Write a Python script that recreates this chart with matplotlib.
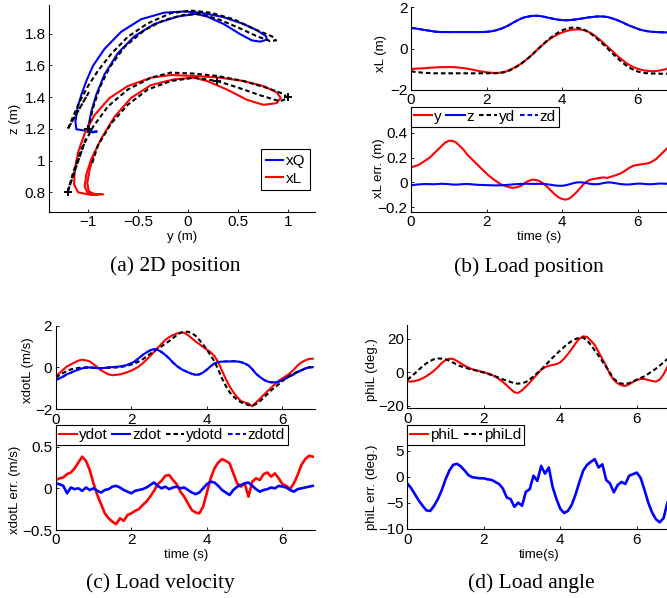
import numpy as np
import matplotlib
matplotlib.use("Agg")
import matplotlib.pyplot as plt
from matplotlib.ticker import FuncFormatter

plt.rcParams['font.family'] = ['Liberation Sans', 'DejaVu Sans']

# ---------------- (a) 2D position: y-z paths ----------------
yQ = [-0.917, -1.033, -1.116, -1.126, -1.106, -1.066, -1.017, -0.950, -0.834, -0.669, -0.470, -0.238,
      -0.040, 0.126, 0.358, 0.556, 0.689, 0.781, 0.788, 0.722, 0.639, 0.523, 0.358, 0.192, 0.076,
      -0.106, -0.338, -0.536, -0.702, -0.834, -0.917, -0.967, -0.993, -0.990, -0.950, -0.917]
zQ = [1.180, 1.189, 1.197, 1.244, 1.330, 1.415, 1.501, 1.597, 1.704, 1.811, 1.890, 1.932,
      1.939, 1.932, 1.903, 1.860, 1.821, 1.783, 1.762, 1.749, 1.757, 1.796, 1.860, 1.907, 1.924,
      1.907, 1.860, 1.783, 1.676, 1.544, 1.415, 1.309, 1.223, 1.191, 1.176, 1.185]
yQd = [-1.199, -1.149, -1.083, -1.0, -0.901, -0.768, -0.603, -0.404, -0.172, 0.026, 0.225, 0.457,
       0.689, 0.838, 0.881, 0.821, 0.689, 0.523, 0.325, 0.126, -0.040, -0.238, -0.437, -0.636,
       -0.785, -0.884, -0.950, -0.993]
zQd = [1.202, 1.277, 1.373, 1.469, 1.565, 1.672, 1.779, 1.864, 1.928, 1.945, 1.932, 1.890,
       1.821, 1.783, 1.757, 1.753, 1.783, 1.832, 1.885, 1.924, 1.918, 1.885, 1.821, 1.715,
       1.586, 1.458, 1.330, 1.212]
yQd_start = [-1.199, -0.990]
zQd_start = [1.202, 1.432]

yL = [-0.868, -0.967, -1.099, -1.139, -1.132, -1.099, -1.033, -0.934, -0.785, -0.603, -0.371, -0.172,
      0.060, 0.325, 0.556, 0.755, 0.887, 0.927, 0.887, 0.755, 0.589, 0.391, 0.192, 0.060, -0.139,
      -0.371, -0.570, -0.735, -0.868, -0.967, -1.017, -1.033, -1.007, -0.934, -0.884]
zL = [0.789, 0.783, 0.800, 0.849, 0.945, 1.052, 1.170, 1.287, 1.394, 1.469, 1.522, 1.539,
      1.533, 1.522, 1.501, 1.469, 1.430, 1.394, 1.362, 1.351, 1.383, 1.447, 1.501, 1.522, 1.512,
      1.475, 1.394, 1.276, 1.138, 1.009, 0.913, 0.838, 0.800, 0.785, 0.789]
yL2 = [-0.934, -0.983, -1.007, -0.993, -0.934, -0.851]
zL2 = [1.052, 0.945, 0.860, 0.806, 0.789, 0.787]
yLd = [-1.205, -1.149, -1.066, -0.950, -0.801, -0.603, -0.371, -0.172, 0.060, 0.291, 0.556, 0.788,
       0.954, 0.997, 0.921, 0.722, 0.490, 0.291, 0.060, -0.172, -0.404, -0.603, -0.768, -0.901, -0.967]
zLd = [0.800, 0.924, 1.073, 1.212, 1.341, 1.447, 1.522, 1.554, 1.548, 1.533, 1.501, 1.458,
       1.420, 1.394, 1.373, 1.411, 1.462, 1.501, 1.522, 1.501, 1.447, 1.351, 1.234, 1.095, 0.967]
yLd_start = [-1.205, -1.02]
zLd_start = [0.800, 1.14]
y_marks = [-1.2, -1.0, 0.29, 1.0]
z_marks = [0.8, 1.2, 1.5, 1.4]

# ---------------- time series (0 .. 6.8 s, 0.1 s step) ----------------
t = np.linspace(0, 6.8, 69)

yL_t = [-0.99, -0.98, -0.97, -0.96, -0.95, -0.93, -0.92, -0.91, -0.90, -0.90, -0.90, -0.90, -0.91, -0.93,
        -0.95, -0.98, -1.01, -1.05, -1.09, -1.12, -1.15, -1.17, -1.18, -1.18, -1.16, -1.12, -1.05, -0.96,
        -0.86, -0.75, -0.62, -0.47, -0.31, -0.13, 0.04, 0.20, 0.35, 0.49, 0.60, 0.70, 0.78, 0.84, 0.89,
        0.92, 0.93, 0.92, 0.88, 0.81, 0.71, 0.58, 0.43, 0.27, 0.10, -0.07, -0.24, -0.41, -0.56, -0.70,
        -0.82, -0.91, -0.98, -1.03, -1.07, -1.09, -1.10, -1.09, -1.06, -1.02, -0.97]
zL_t = [1.00, 0.98, 0.95, 0.92, 0.89, 0.86, 0.83, 0.81, 0.80, 0.80, 0.80, 0.80, 0.80, 0.80, 0.80, 0.80,
        0.80, 0.80, 0.80, 0.80, 0.81, 0.83, 0.86, 0.91, 0.97, 1.05, 1.14, 1.25, 1.35, 1.44, 1.51, 1.55,
        1.58, 1.59, 1.58, 1.55, 1.51, 1.47, 1.43, 1.40, 1.38, 1.37, 1.38, 1.40, 1.42, 1.45, 1.48, 1.51,
        1.53, 1.55, 1.56, 1.55, 1.53, 1.48, 1.42, 1.35, 1.27, 1.18, 1.10, 1.03, 0.96, 0.90, 0.86, 0.83,
        0.81, 0.80, 0.79, 0.79, 0.78]
yLd_t = [-1.10, -1.13, -1.15, -1.17, -1.18, -1.19, -1.20, -1.20, -1.20, -1.20, -1.20, -1.20, -1.20, -1.20,
         -1.20, -1.20, -1.20, -1.20, -1.20, -1.20, -1.20, -1.20, -1.20, -1.19, -1.17, -1.13, -1.07, -0.98,
         -0.88, -0.76, -0.62, -0.47, -0.31, -0.14, 0.04, 0.21, 0.38, 0.53, 0.66, 0.78, 0.88, 0.95, 1.00,
         1.02, 1.01, 0.97, 0.90, 0.80, 0.67, 0.52, 0.36, 0.19, 0.01, -0.17, -0.35, -0.52, -0.68, -0.82,
         -0.94, -1.04, -1.11, -1.16, -1.19, -1.20, -1.21, -1.21, -1.22, -1.22, -1.22]
zLd_t = zL_t
eyL = [0.12, 0.13, 0.14, 0.16, 0.18, 0.20, 0.23, 0.26, 0.29, 0.32, 0.335, 0.335, 0.32, 0.29, 0.26, 0.22,
       0.19, 0.16, 0.13, 0.10, 0.07, 0.045, 0.02, 0.0, -0.02, -0.03, -0.04, -0.045, -0.04, -0.03, -0.01,
       0.01, 0.02, 0.02, 0.01, -0.01, -0.035, -0.065, -0.095, -0.12, -0.135, -0.14, -0.13, -0.105,
       -0.075, -0.04, -0.005, 0.015, 0.025, 0.03, 0.035, 0.04, 0.035, 0.045, 0.055, 0.065, 0.08, 0.10,
       0.12, 0.135, 0.14, 0.145, 0.15, 0.155, 0.17, 0.19, 0.22, 0.25, 0.28]
ezL = [-0.025, -0.02, -0.017, -0.015, -0.014, -0.015, -0.016, -0.014, -0.012, -0.013, -0.015, -0.018,
       -0.019, -0.017, -0.014, -0.014, -0.016, -0.019, -0.021, -0.022, -0.023, -0.024, -0.025, -0.025,
       -0.024, -0.022, -0.02, -0.017, -0.015, -0.013, -0.012, -0.012, -0.013, -0.013, -0.012, -0.013,
       -0.016, -0.02, -0.025, -0.028, -0.028, -0.024, -0.016, -0.007, -0.001, 0.0, -0.004, -0.01,
       -0.015, -0.016, -0.013, -0.006, -0.001, -0.002, -0.007, -0.012, -0.016, -0.018, -0.017, -0.014,
       -0.011, -0.011, -0.014, -0.016, -0.015, -0.012, -0.01, -0.011, -0.012]

ydot = [-0.43, -0.27, -0.10, 0.05, 0.15, 0.24, 0.33, 0.37, 0.34, 0.29, 0.16, 0.02, -0.13, -0.24, -0.33,
        -0.37, -0.35, -0.33, -0.28, -0.22, -0.15, -0.06, 0.05, 0.20, 0.37, 0.55, 0.74, 0.94, 1.13, 1.32,
        1.45, 1.55, 1.62, 1.67, 1.66, 1.55, 1.40, 1.25, 1.12, 0.98, 0.85, 0.73, 0.55, 0.26, -0.15, -0.55,
        -0.90, -1.18, -1.42, -1.60, -1.68, -1.72, -1.86, -1.68, -1.50, -1.32, -1.14, -0.97, -0.80, -0.64,
        -0.52, -0.40, -0.27, -0.10, 0.10, 0.24, 0.34, 0.41, 0.42]
zdot = [-0.59, -0.52, -0.43, -0.32, -0.25, -0.17, -0.10, -0.04, 0.0, 0.0, -0.01, -0.03, -0.03, -0.02, 0.0,
        0.02, 0.03, 0.05, 0.08, 0.13, 0.20, 0.30, 0.45, 0.60, 0.72, 0.82, 0.88, 0.84, 0.74, 0.60, 0.44,
        0.24, 0.08, -0.05, -0.15, -0.23, -0.30, -0.35, -0.33, -0.24, -0.10, 0.06, 0.20, 0.26, 0.28, 0.29,
        0.29, 0.30, 0.29, 0.26, 0.19, 0.10, -0.08, -0.30, -0.45, -0.58, -0.67, -0.71, -0.71, -0.68, -0.60,
        -0.51, -0.42, -0.32, -0.22, -0.13, -0.05, 0.01, 0.02]
ydotd = [-0.48, -0.37, -0.26, -0.16, -0.09, -0.05, -0.02, 0.0, 0.0, -0.01, -0.02, -0.03, -0.03, -0.02,
         -0.01, 0.0, 0.0, 0.02, 0.05, 0.09, 0.14, 0.20, 0.29, 0.39, 0.52, 0.65, 0.77, 0.89, 1.01, 1.14,
         1.26, 1.40, 1.55, 1.66, 1.72, 1.71, 1.64, 1.52, 1.32, 1.10, 0.85, 0.58, 0.29, -0.10, -0.52, -0.88,
         -1.18, -1.38, -1.55, -1.66, -1.74, -1.80, -1.82, -1.75, -1.62, -1.45, -1.27, -1.09, -0.95, -0.80,
         -0.65, -0.50, -0.38, -0.28, -0.20, -0.13, -0.06, 0.0, 0.02]
zdotd = zdot
eydot = [0.10, 0.12, 0.13, 0.17, 0.19, 0.24, 0.31, 0.38, 0.33, 0.22, 0.06, -0.08, -0.19, -0.30, -0.36,
         -0.40, -0.43, -0.36, -0.39, -0.32, -0.30, -0.27, -0.25, -0.20, -0.16, -0.10, -0.03, 0.05, 0.09,
         0.15, 0.16, 0.10, 0.05, -0.04, -0.10, -0.18, -0.26, -0.29, -0.30, -0.22, -0.05, 0.12, 0.24, 0.31,
         0.35, 0.33, 0.30, 0.18, 0.06, 0.02, 0.06, -0.10, 0.08, 0.12, 0.10, 0.17, 0.19, 0.14, 0.18, 0.12,
         0.05, 0.03, -0.01, 0.06, 0.16, 0.28, 0.35, 0.39, 0.38]
ezdot = [0.06, 0.05, 0.03, -0.06, 0.01, -0.01, 0.0, -0.03, 0.01, -0.02, 0.0, -0.03, -0.05, -0.02, -0.01,
         0.02, 0.03, 0.01, -0.02, -0.04, -0.06, -0.03, -0.02, -0.01, 0.01, 0.04, 0.07, 0.03, 0.0, 0.02,
         -0.01, 0.01, 0.02, 0.0, 0.01, -0.02, -0.05, -0.07, -0.05, 0.0, 0.05, 0.08, 0.07, 0.03, -0.02,
         -0.05, -0.08, -0.02, 0.02, 0.04, 0.06, 0.07, 0.03, -0.01, -0.04, -0.02, -0.01, 0.01, 0.0, 0.03,
         0.02, 0.01, -0.02, -0.04, -0.01, 0.0, 0.01, 0.02, 0.03]

phiL = [-5.4, -5.6, -5.2, -4.6, -3.6, -2.3, -0.8, 1.0, 3.2, 5.6, 7.3, 8.2, 8.0, 6.8, 5.4, 4.0, 2.8, 1.8,
        1.2, 0.6, 0.1, -0.6, -1.4, -2.6, -4.1, -5.8, -7.8, -10.0, -12.0, -12.4, -10.8, -8.6, -6.2, -3.6,
        -1.0, 1.6, 3.0, 3.9, 4.4, 4.9, 6.0, 8.2, 11.0, 14.0, 17.4, 20.2, 21.6, 21.2, 19.0, 16.4, 12.4,
        8.0, 3.8, -1.2, -4.6, -6.6, -7.8, -8.2, -7.2, -5.8, -4.6, -4.0, -4.0, -4.6, -5.2, -5.6, -4.4,
        -1.2, 3.2]
phiLd = [-4.4, -2.6, -0.6, 1.6, 3.6, 5.4, 6.8, 7.9, 8.3, 8.2, 7.8, 7.0, 5.8, 4.6, 3.6, 2.9, 2.2, 1.7,
         1.1, 0.5, -0.2, -0.9, -1.6, -2.4, -3.3, -4.2, -5.0, -5.8, -6.6, -6.8, -6.6, -5.8, -4.4, -2.4,
         -0.4, 1.6, 4.0, 6.4, 8.8, 11.0, 13.2, 15.2, 17.2, 18.8, 20.0, 20.8, 20.8, 19.2, 16.4, 13.2, 10.0,
         6.6, 3.2, -0.4, -3.8, -5.8, -6.8, -7.0, -6.5, -5.4, -4.4, -3.4, -2.4, -0.9, 0.6, 2.2, 4.0, 6.0, 8.0]
ephiL = [-1.3, -2.2, -3.4, -4.6, -5.6, -6.5, -6.6, -5.6, -4.3, -2.6, -0.5, 1.2, 2.3, 2.5, 2.0, 1.2, 0.3,
         -0.1, -0.2, -0.3, -0.3, -0.5, -0.6, -1.0, -1.4, -2.3, -4.0, -4.3, -5.8, -5.0, -5.6, -2.9, -2.4,
         0.2, -0.8, 2.1, 0.6, 1.8, -2.0, -4.3, -6.2, -7.0, -6.6, -5.4, -3.4, -1.0, 1.2, 2.3, 2.9, 3.4, 1.8,
         2.4, -0.6, -1.3, -3.0, -1.6, -1.0, -1.4, 0.2, 0.5, 0.8, -0.2, -2.5, -5.0, -6.9, -8.2, -8.8,
         -8.0, -5.0]

W, H = 667, 598
RED, BLUE = '#ff0000', '#0000ff'
LW = 1.5
LW_NOISY = 1.9
DASH = (2.2, 1.4)
TICK_FS = 11
LAB_FS = 9.5


def pos(l, t_, r, b):
    return [l / W, 1 - b / H, (r - l) / W, (b - t_) / H]


def fmt(v, p):
    return ('%g' % v).replace('-', '\u2212')


def style(ax):
    for s in ['top', 'right']:
        ax.spines[s].set_visible(False)
    for s in ['left', 'bottom']:
        ax.spines[s].set_linewidth(0.8)
    ax.tick_params(direction='in', length=2.5, width=0.6, labelsize=TICK_FS, pad=2.5)
    ax.xaxis.set_major_formatter(FuncFormatter(fmt))
    ax.yaxis.set_major_formatter(FuncFormatter(fmt))


def ylab(ax, text, x, y):
    ax.set_ylabel(text, fontsize=LAB_FS, va='center', ha='center')
    ax.yaxis.set_label_coords(x / W, 1 - y / H, transform=fig.transFigure)


def xlab(ax, text, x, y):
    ax.set_xlabel(text, fontsize=LAB_FS, va='center', ha='center')
    ax.xaxis.set_label_coords(x / W, 1 - y / H, transform=fig.transFigure)


def leg(ax, handles, labels, x, y, ncol):
    lg = ax.legend(handles, labels, loc='upper left', bbox_to_anchor=(x / W, 1 - y / H),
                   bbox_transform=fig.transFigure, ncol=ncol, fontsize=TICK_FS, frameon=True,
                   fancybox=False, framealpha=1, edgecolor='black', borderpad=0.2, handlelength=1.2,
                   handletextpad=0.12, columnspacing=0.3, borderaxespad=0)
    lg.get_frame().set_linewidth(0.8)
    return lg


fig = plt.figure(figsize=(W / 100, H / 100), dpi=100)

# (a)
ax = fig.add_axes(pos(49, 5, 315, 212))
qa, = ax.plot(yQ, zQ, color=BLUE, lw=LW)
la, = ax.plot(yL, zL, color=RED, lw=LW)
ax.plot(yL2, zL2, color=RED, lw=LW)
ax.plot(yQd, zQd, color='black', lw=LW, dashes=DASH)
ax.plot(yLd, zLd, color='black', lw=LW, dashes=DASH)
ax.plot(yQd_start, zQd_start, color='black', lw=LW, dashes=(3, 0.6))
ax.plot(yLd_start, zLd_start, color='black', lw=LW, dashes=(3, 0.6))
ax.plot(y_marks, z_marks, ls='none', marker='+', color='black', ms=6, mew=1.4)
ax.set_xlim(-1.39, 1.27)
ax.set_ylim(0.676, 1.98)
ax.set_xticks([-1, -0.5, 0, 0.5, 1])
ax.set_yticks([0.8, 1, 1.2, 1.4, 1.6, 1.8])
style(ax)
ylab(ax, 'z (m)', 15, 119)
xlab(ax, 'y (m)', 182, 236.7)
lg = ax.legend([qa, la], ['xQ', 'xL'], loc='upper right', bbox_to_anchor=(310 / W, 1 - 149.3 / H),
               bbox_transform=fig.transFigure, fontsize=TICK_FS, fancybox=False, framealpha=1,
               edgecolor='black', borderpad=0.3, handlelength=1.1, handletextpad=0.2, borderaxespad=0,
               labelspacing=0.25)
lg.get_frame().set_linewidth(0.8)

# (b) top
ax = fig.add_axes(pos(411, 7.3, 667, 89.8))
l1, = ax.plot(t, yL_t, color=RED, lw=LW)
l2, = ax.plot(t, zL_t, color=BLUE, lw=LW)
l3, = ax.plot(t, yLd_t, color='black', lw=LW, dashes=DASH)
l4, = ax.plot(t, zLd_t, color=BLUE, lw=LW, dashes=DASH)
ax.set_xlim(0, 6.78)
ax.set_ylim(-2, 2)
ax.set_xticks([0, 2, 4, 6])
ax.set_yticks([-2, 0, 2])
style(ax)
ylab(ax, 'xL (m)', 381, 53)

# (b) bottom
ax = fig.add_axes(pos(411, 108, 667, 212))
ax.plot(t, eyL, color=RED, lw=LW)
ax.plot(t, ezL, color=BLUE, lw=LW)
ax.set_xlim(0, 6.78)
ax.set_ylim(-0.24, 0.6)
ax.set_xticks([0, 2, 4, 6])
ax.set_yticks([-0.2, 0, 0.2, 0.4])
style(ax)
ylab(ax, 'xL err. (m)', 379, 168)
xlab(ax, 'time (s)', 539, 236.7)
leg(ax, [l1, l2, l3, l4], ['y', 'z', 'yd', 'zd'], 411, 106.7, 4)

# (c) top
ax = fig.add_axes(pos(55.7, 325.7, 315, 409.3))
c1, = ax.plot(t, ydot, color=RED, lw=LW)
c2, = ax.plot(t, zdot, color=BLUE, lw=LW)
c3, = ax.plot(t, ydotd, color='black', lw=LW, dashes=DASH)
c4, = ax.plot(t, zdotd, color=BLUE, lw=LW, dashes=DASH)
ax.set_xlim(0, 6.86)
ax.set_ylim(-2, 2)
ax.set_xticks([0, 2, 4, 6])
ax.set_yticks([-2, 0, 2])
style(ax)
ylab(ax, 'xdotL (m/s)', 28, 370)

# (c) bottom
ax = fig.add_axes(pos(55.7, 425, 315, 530))
ax.plot(t, eydot, color=RED, lw=LW_NOISY)
ax.plot(t, ezdot, color=BLUE, lw=LW_NOISY)
ax.set_xlim(0, 6.86)
ax.set_ylim(-0.5, 0.76)
ax.set_xticks([0, 2, 4, 6])
ax.set_yticks([-0.5, 0, 0.5])
style(ax)
ylab(ax, 'xdotL err. (m/s)', 15, 490)
xlab(ax, 'time (s)', 186, 555)
leg(ax, [c1, c2, c3, c4], ['ydot', 'zdot', 'ydotd', 'zdotd'], 55.5, 425, 4)

# (d) top
ax = fig.add_axes(pos(407.3, 325, 667, 408.3))
d1, = ax.plot(t, phiL, color=RED, lw=LW)
d2, = ax.plot(t, phiLd, color='black', lw=LW, dashes=DASH)
ax.set_xlim(0, 6.79)
ax.set_ylim(-21.6, 28.4)
ax.set_xticks([0, 2, 4, 6])
ax.set_yticks([-20, 0, 20])
style(ax)
ylab(ax, 'phiL (deg.)', 371.7, 370)

# (d) bottom
ax = fig.add_axes(pos(407.3, 425, 667, 529.3))
ax.plot(t, ephiL, color=BLUE, lw=LW_NOISY)
ax.set_xlim(0, 6.79)
ax.set_ylim(-10.15, 10)
ax.set_xticks([0, 2, 4, 6])
ax.set_yticks([-10, -5, 0, 5])
style(ax)
ylab(ax, 'phiL err. (deg.)', 371.7, 487)
xlab(ax, 'time(s)', 538.7, 555)
leg(ax, [d1, d2], ['phiL', 'phiLd'], 407, 425, 2)

# captions
cap = dict(family=['Liberation Serif', 'DejaVu Serif'], fontsize=15.5, ha='center', va='center')
fig.text(175 / W, 1 - 266 / H, '(a) 2D position', **cap)
fig.text(529 / W, 1 - 267 / H, '(b) Load position', **cap)
fig.text(160 / W, 1 - 583 / H, '(c) Load velocity', **cap)
fig.text(531 / W, 1 - 583 / H, '(d) Load angle', **cap)

fig.savefig('out.png', dpi=100)
